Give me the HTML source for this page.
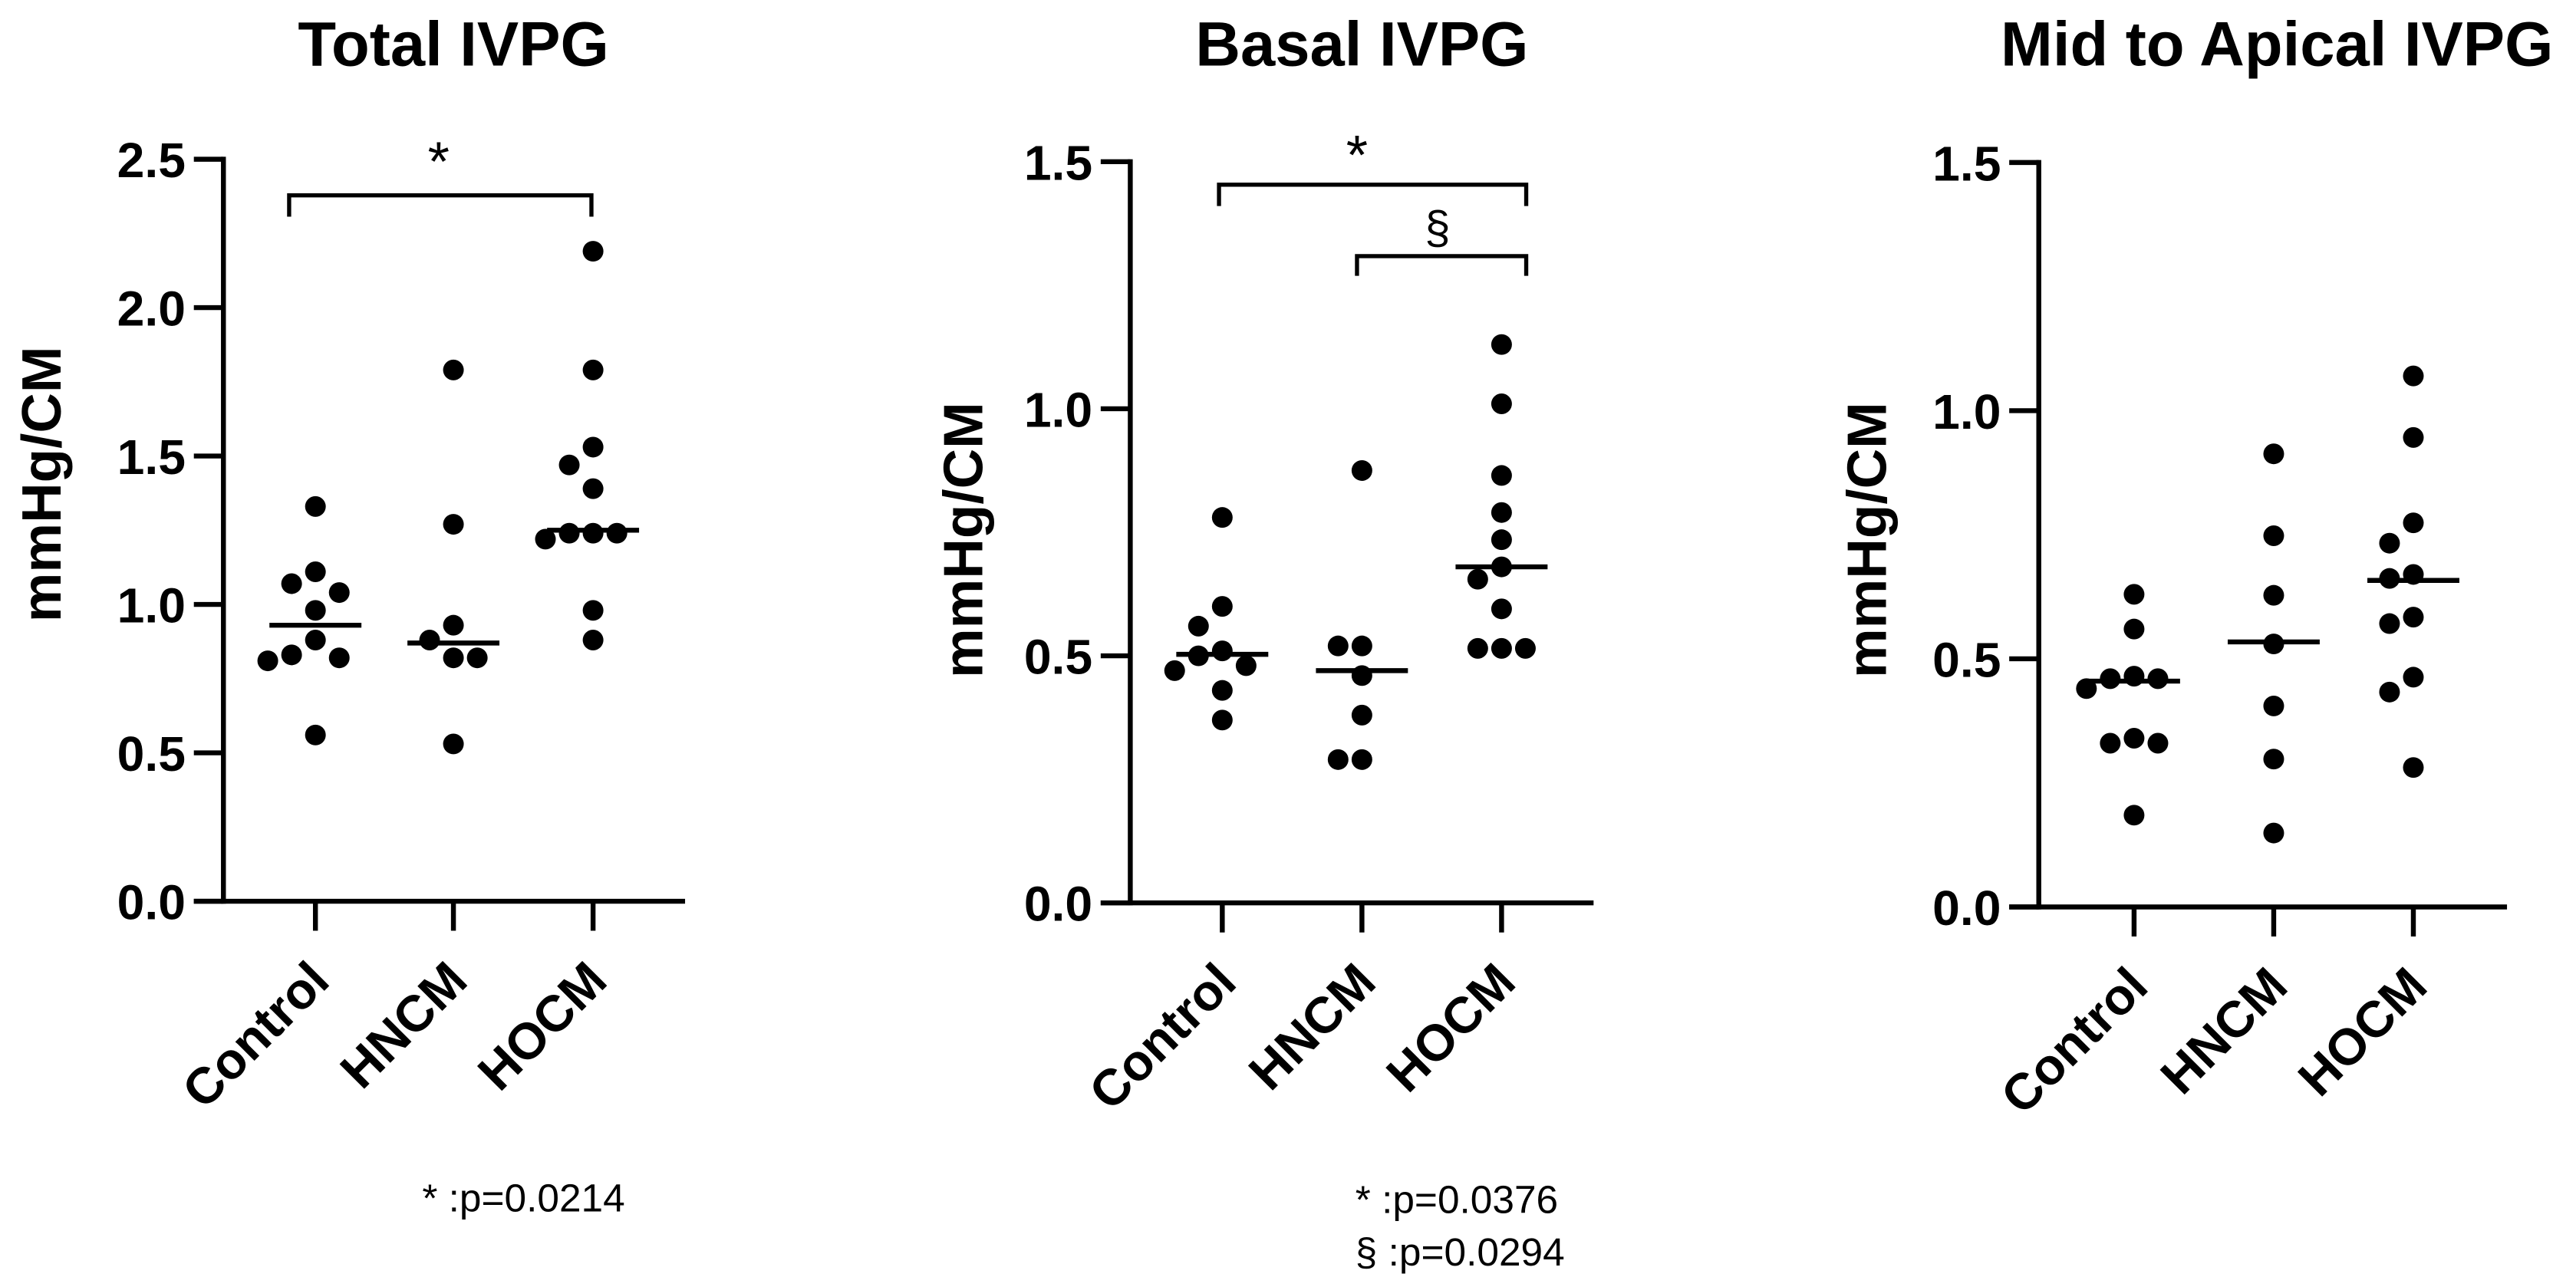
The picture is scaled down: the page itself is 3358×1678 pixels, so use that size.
<!DOCTYPE html>
<html><head><meta charset="utf-8"><style>
html,body{margin:0;padding:0;background:#fff;}
svg{display:block;}
text{font-family:"Liberation Sans",Arial,sans-serif;fill:#000;}
</style></head>
<body>
<svg id="fig" width="3358" height="1678" viewBox="0 0 1568 784" preserveAspectRatio="none" xmlns="http://www.w3.org/2000/svg"></svg>
<script>
const categories = ["Control", "HNCM", "HOCM"];
const totalControl = [1.33, 1.11, 1.07, 1.04, 0.98, 0.88, 0.83, 0.82, 0.81, 0.56];
const totalHNCM = [1.79, 1.27, 0.93, 0.88, 0.82, 0.82, 0.53];
const totalHOCM = [2.19, 1.79, 1.53, 1.47, 1.39, 1.24, 1.24, 1.24, 1.22, 0.98, 0.88];
const totalMedians = [0.93, 0.87, 1.25];
const basalControl = [0.78, 0.60, 0.56, 0.51, 0.50, 0.48, 0.47, 0.43, 0.37];
const basalHNCM = [0.875, 0.52, 0.52, 0.46, 0.38, 0.29, 0.29];
const basalHOCM = [1.13, 1.01, 0.865, 0.79, 0.735, 0.68, 0.655, 0.595, 0.515, 0.515, 0.515];
const basalMedians = [0.503, 0.47, 0.68];
const midControl = [0.63, 0.56, 0.465, 0.46, 0.46, 0.44, 0.34, 0.33, 0.33, 0.185];
const midHNCM = [0.913, 0.748, 0.628, 0.53, 0.405, 0.298, 0.149];
const midHOCM = [1.07, 0.946, 0.774, 0.733, 0.67, 0.662, 0.584, 0.571, 0.463, 0.433, 0.281];
const midMedians = [0.455, 0.534, 0.658];
const totalTicks = ["0.0", "0.5", "1.0", "1.5", "2.0", "2.5"];
const basalTicks = ["0.0", "0.5", "1.0", "1.5"];
const midTicks = ["0.0", "0.5", "1.0", "1.5"];

const NS = "http://www.w3.org/2000/svg";
const svg = document.getElementById("fig");
function mk(tag, attrs, parent) {
  const e = document.createElementNS(NS, tag);
  for (const k in attrs) e.setAttribute(k, attrs[k]);
  (parent || svg).appendChild(e);
  return e;
}

const panels = [
  {key:"total", title:"Total IVPG", titleX:276, ax:136, yTop:97, yBot:549, yMax:2.5, xEnd:417, ticksX:[192,276,361], labelX:25, labelY:295,
   series:[totalControl,totalHNCM,totalHOCM], medians:totalMedians, ticks:totalTicks,
   brackets:[{x1:176,x2:360,y:119,leg:13,sym:"*",sx:267,sy:110,fs:34}],
   notes:[{t:"* :p=0.0214",x:257,y:738}]},
  {key:"basal", title:"Basal IVPG", titleX:829, ax:688, yTop:98.5, yBot:550, yMax:1.5, xEnd:970, ticksX:[744,829,914], labelX:586, labelY:329,
   series:[basalControl,basalHNCM,basalHOCM], medians:basalMedians, ticks:basalTicks,
   brackets:[{x1:742,x2:929,y:112.5,leg:13,sym:"*",sx:826,sy:106,fs:34},{x1:826,x2:929,y:156,leg:12,sym:"§",sx:875,sy:148,fs:28}],
   notes:[{t:"* :p=0.0376",x:825,y:739},{t:"§ :p=0.0294",x:825,y:771}]},
  {key:"mid", title:"Mid to Apical IVPG", titleX:1386, ax:1241, yTop:99, yBot:552.5, yMax:1.5, xEnd:1526, ticksX:[1299,1384,1469], labelX:1136, labelY:329,
   series:[midControl,midHNCM,midHOCM], medians:midMedians, ticks:midTicks, brackets:[], notes:[]}
];

const R = 6.3, STEP = 14.5;
panels.forEach(p => {
  const g = mk("g", {});
  
  
  const y = v => p.yBot - (v / p.yMax) * (p.yBot - p.yTop);

  const t = mk("text", {x:p.titleX, y:40, "text-anchor":"middle", "font-size":38, "font-weight":"bold"}, g);
  t.textContent = p.title;
  
  

  const yl = mk("text", {x:0, y:0, "text-anchor":"middle", "font-size":34, "font-weight":"bold", transform:`translate(${p.labelX + 12},${p.labelY}) rotate(-90)`}, g);
  yl.textContent = "mmHg/CM";
  
  

  const ya = mk("line", {x1:p.ax, y1:p.yTop - 1.5, x2:p.ax, y2:p.yBot + 1.5, stroke:"#000", "stroke-width":3}, g);
  
  
  const xa = mk("line", {x1:p.ax - 18, y1:p.yBot, x2:p.xEnd, y2:p.yBot, stroke:"#000", "stroke-width":3}, g);
  
  

  p.ticks.forEach(lbl => {
    const v = parseFloat(lbl);
    const tk = mk("line", {x1:p.ax - 18, y1:y(v), x2:p.ax, y2:y(v), stroke:"#000", "stroke-width":3}, g);
    
    
    const tl = mk("text", {x:p.ax - 23, y:y(v) + 11, "text-anchor":"end", "font-size":30, "font-weight":"bold"}, g);
    tl.textContent = lbl;
    
    
  });

  categories.forEach((c, i) => {
    const cx = p.ticksX[i];
    const tk = mk("line", {x1:cx, y1:p.yBot, x2:cx, y2:p.yBot + 18, stroke:"#000", "stroke-width":3}, g);
    
    
    const cl = mk("text", {x:0, y:0, "text-anchor":"end", "font-size":31, "font-weight":"bold", transform:`translate(${cx + 10},${p.yBot + 50}) rotate(-45)`}, g);
    cl.textContent = c;
    
    

    const placed = [];
    const vals = p.series[i].slice().sort((a, b) => b - a);
    vals.forEach(v => {
      const py = y(v);
      let off = 0;
      for (let k = 0; k < 20; k++) {
        const cand = k === 0 ? 0 : (k % 2 ? -1 : 1) * Math.ceil(k / 2) * STEP;
        const ok = placed.every(q => Math.hypot(q.x - (cx + cand), q.y - py) >= 2 * R + 0.5);
        if (ok) { off = cand; break; }
      }
      placed.push({x:cx + off, y:py});
      const d = mk("circle", {cx:cx + off, cy:py, r:R, fill:"#000"}, g);
      
      
    });
    const my = y(p.medians[i]);
    const ml = mk("line", {x1:cx - 28, y1:my, x2:cx + 28, y2:my, stroke:"#000", "stroke-width":3}, g);
    
    
  });

  p.brackets.forEach(b => {
    const br = mk("path", {d:`M${b.x1},${b.y + b.leg} L${b.x1},${b.y} L${b.x2},${b.y} L${b.x2},${b.y + b.leg}`, fill:"none", stroke:"#000", "stroke-width":2.5}, g);
    
    
    const s = mk("text", {x:b.sx, y:b.sy, "text-anchor":"middle", "font-size":b.fs}, g);
    s.textContent = b.sym;
    
    
  });

  p.notes.forEach(n => {
    const nt = mk("text", {x:n.x, y:n.y, "font-size":24}, g);
    nt.textContent = n.t;
    
    
  });
});
</script>
</body></html>
